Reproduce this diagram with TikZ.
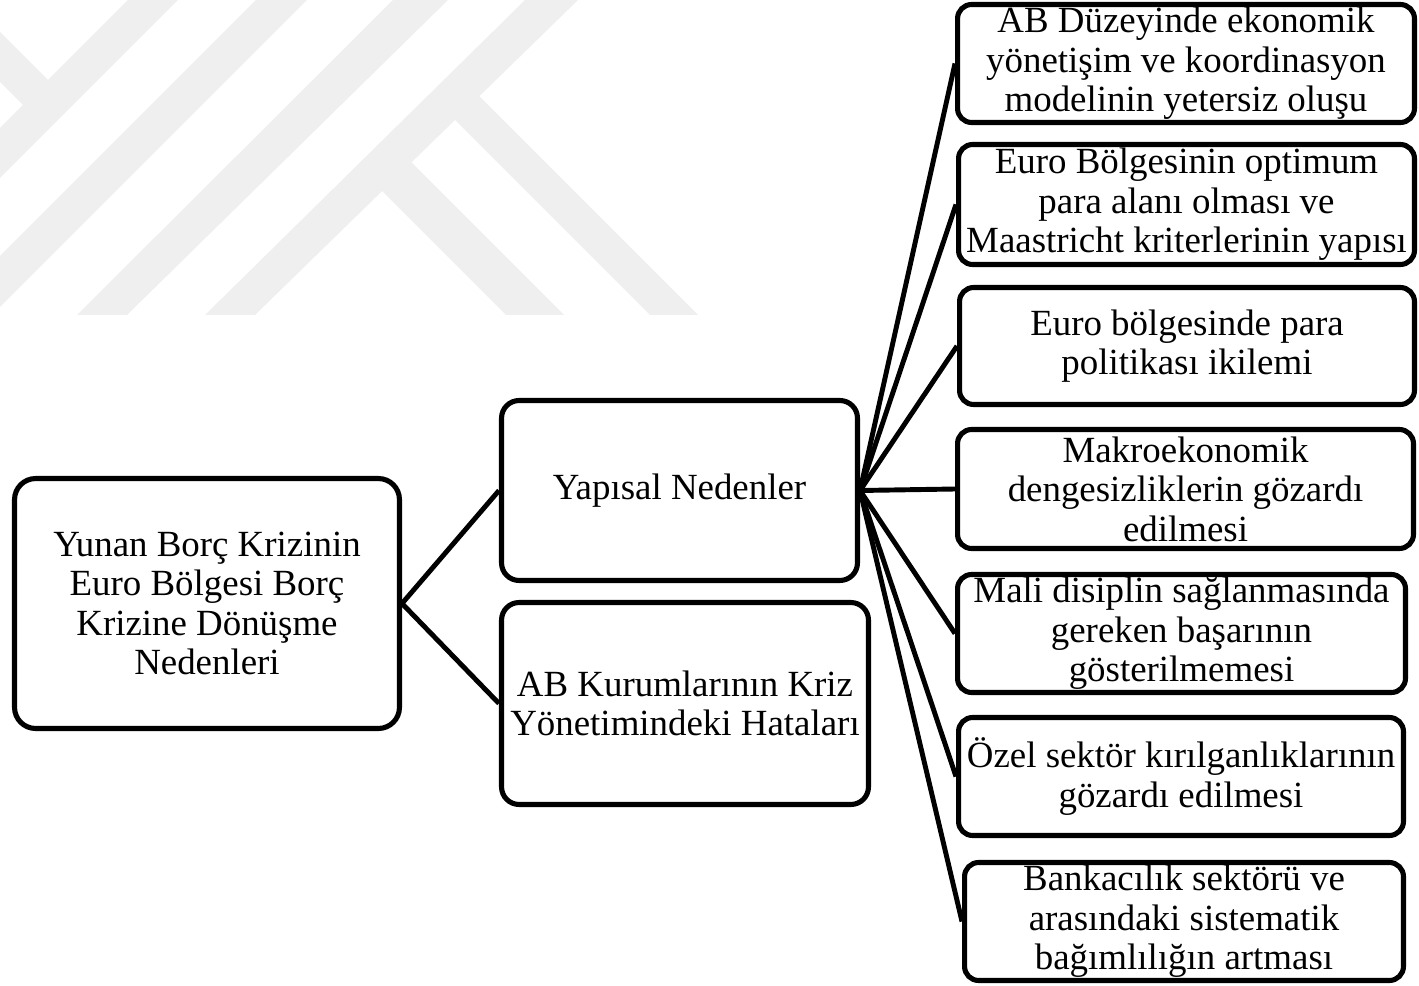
\documentclass[tikz,border=0pt]{standalone}
\usepackage{fontspec}
\setmainfont{Liberation Serif}
\usetikzlibrary{positioning}
\definecolor{wmgray}{RGB}{239,239,239}

\begin{document}
\begin{tikzpicture}[
  x=0.02cm, y=-0.02cm,
  font=\fontsize{21}{22.5}\selectfont,
  box/.style={draw, line width=2.9pt, rounded corners=8pt, align=center, inner sep=1pt, fill=white},
  topbox/.style={box, rounded corners=10pt},
  cause/.style={box, minimum height=2.36cm},
  link/.style={line width=2.8pt}
]
\useasboundingbox (0,0) rectangle (1419,986);

% watermark in the background
\fill[wmgray] (128,0) -- (178,0) -- (0,178) -- (0,128) -- cycle;
\fill[wmgray] (0,32) -- (56,88) -- (31,113) -- (0,82) -- cycle;
\fill[wmgray] (256,0) -- (307,0) -- (0,307) -- (0,256) -- cycle;
\fill[wmgray] (393,0) -- (448,0) -- (127,315) -- (77,315) -- cycle;
\fill[wmgray] (525,0) -- (578,0) -- (255,315) -- (205,315) -- cycle;
\fill[wmgray] (459,76) -- (698,315) -- (650,315) -- (435,100) -- cycle;
\fill[wmgray] (392,143) -- (564,315) -- (506,315) -- (363,172) -- cycle;

\node[topbox, rounded corners=12pt, minimum width=7.70cm, minimum height=5.0cm] (root) at (207,603.5)
  {Yunan Borç Krizinin\\Euro Bölgesi Borç\\Krizine Dönüşme\\Nedenleri};

\node[topbox, minimum width=7.12cm, minimum height=3.60cm] (yapisal) at (679.5,490.5)
  {Yapısal Nedenler};
\node[topbox, minimum width=7.34cm, minimum height=4.04cm] (kurum) at (685,703.5)
  {AB Kurumlarının Kriz\\Yönetimindeki Hataları};

\node[cause, minimum width=9.14cm] (ekonomi) at (1186,63.5)
  {AB Düzeyinde ekonomik\\yönetişim ve koordinasyon\\modelinin yetersiz oluşu};
\node[cause, minimum width=9.12cm, minimum height=2.40cm] (optimum) at (1186.5,204.5)
  {Euro Bölgesinin optimum\\para alanı olması ve\\Maastricht kriterlerinin yapısı};
\node[cause, minimum width=9.10cm, minimum height=2.34cm] (parapol) at (1187,346)
  {Euro bölgesinde para\\politikası ikilemi};
\node[cause, minimum width=9.12cm, minimum height=2.38cm] (makro) at (1185.5,489)
  {Makroekonomik\\dengesizliklerin gözardı\\edilmesi};
\node[cause, minimum width=8.96cm] (mali) at (1181.5,633.5)
  {Mali disiplin sağlanmasında\\gereken başarının\\gösterilmemesi};
\node[cause, minimum width=8.90cm] (ozel) at (1181,776.5)
  {Özel sektör kırılganlıklarının\\gözardı edilmesi};
\node[cause, minimum width=8.78cm] (banka) at (1184,921.5)
  {Bankacılık sektörü ve\\arasındaki sistematik\\bağımlılığın artması};

\draw[link] (root.east) -- (yapisal.west);
\draw[link] (root.east) -- (kurum.west);

\draw[link] (yapisal.east) -- (ekonomi.west);
\draw[link] (yapisal.east) -- (optimum.west);
\draw[link] (yapisal.east) -- (parapol.west);
\draw[link] (yapisal.east) -- (makro.west);
\draw[link] (yapisal.east) -- (mali.west);
\draw[link] (yapisal.east) -- (ozel.west);
\draw[link] (yapisal.east) -- (banka.west);

\end{tikzpicture}
\end{document}
